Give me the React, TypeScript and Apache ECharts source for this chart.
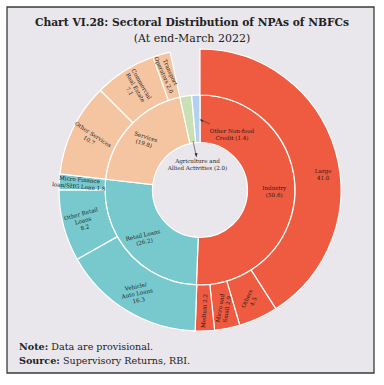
import React, { useEffect, useRef } from "react";
import * as echarts from "echarts";

// Inner ring (broad sectors), clockwise from 12 o'clock
const innerNames = ["Industry", "Retail Loans", "Services", "Agriculture and Allied Activities", "Other Non-food Credit"];
const innerValues = [50.6, 26.2, 19.8, 2.0, 1.4];
const innerLabelFormats = ["Industry\n({v})", "Retail Loans\n({v})", "Services\n({v})", "Agriculture and\nAllied Activities ({v})", "Other Non-food\nCredit ({v})"];
const innerColors = ["#EF5B40", "#77C9CD", "#F5C4A1", "#C8E0B3", "#B3D0F0"];
const innerRotate = [0, 13, -18, 0, 0];

// Outer ring (sub-sectors), clockwise from 12 o'clock
const outerNames = ["Large", "Others", "Micro and Small", "Medium", "Vehicle/Auto Loans", "Other Retail Loans", "Micro Finance loan/SHG Loan", "Other Services", "Commercial Real Estate", "Transport Operators"];
const outerValues = [41.0, 4.5, 2.9, 2.2, 16.3, 8.2, 1.8, 10.7, 7.1, 2.0];
const outerParent = [0, 0, 0, 0, 1, 1, 1, 2, 2, 2];
const outerLabelFormats = ["Large\n{v}", "Others\n{v}", "Micro and\nSmall {v}", "Medium {v}", "Vehicle/\nAuto Loans\n{v}", "Other Retail\nLoans\n{v}", "Micro Finance\nloan/SHG Loan {v}", "Other Services\n{v}", "Commercial\nReal Estate\n{v}", "Transport\nOperators {v}"];
const outerRotate = [0, 66, 80, 86, 12, 16, -5, -33, -60, -66];

const FONT = "DejaVu Serif";
const TEXT = "#1c1c1c";

function fmt(formats: string[], p: any): string {
  const f = formats[p.dataIndex];
  if (!f) return "";
  return f.replace("{v}", Number(p.value).toFixed(1));
}

export default function App() {
  const ref = useRef<HTMLDivElement>(null);
  useEffect(() => {
    if (!ref.current) return;
    const chart = echarts.init(ref.current, undefined, { renderer: "svg" });
    const gap = innerValues[3] + innerValues[4];
    const labelBase = { fontFamily: FONT, fontSize: 5.6, lineHeight: 7, color: TEXT };

    const innerData = innerNames.map((n, i) => ({
      name: n,
      value: innerValues[i],
      itemStyle: { color: innerColors[i] },
      label: { rotate: innerRotate[i] },
    }));
    const outerData: any[] = outerNames.map((n, i) => ({
      name: n,
      value: outerValues[i],
      itemStyle: { color: innerColors[outerParent[i]] },
      label: { rotate: outerRotate[i] },
    }));
    outerData.push({ name: "", value: gap, itemStyle: { color: "transparent", borderWidth: 0 }, label: { show: false } });

    chart.setOption({
      animation: false,
      backgroundColor: "#ffffff",
      title: [
        {
          text: "Chart VI.28: Sectoral Distribution of NPAs of NBFCs",
          subtext: "(At end-March 2022)",
          left: "center",
          top: 12,
          itemGap: 5,
          textStyle: { fontFamily: FONT, fontWeight: "bold", fontSize: 10.7, color: "#222" },
          subtextStyle: { fontFamily: FONT, fontSize: 11, color: "#222" },
        },
        {
          text: "{b|Note:} Data are provisional.\n{b|Source:} Supervisory Returns, RBI.",
          left: 14,
          top: 334,
          textStyle: {
            fontFamily: FONT,
            fontSize: 9.6,
            fontWeight: "normal",
            color: "#222",
            lineHeight: 14,
            rich: { b: { fontFamily: FONT, fontSize: 9.6, fontWeight: "bold", color: "#222", lineHeight: 14 } },
          },
        },
      ],
      graphic: [
        {
          type: "rect",
          z: -10,
          shape: { x: 7, y: 7, width: 367, height: 366 },
          style: { fill: "#E9E7EB", stroke: "#3a3a3a", lineWidth: 1.3 },
        },
        { type: "line", z: 10, shape: { x1: 201, y1: 120, x2: 210, y2: 124 }, style: { stroke: "#333", lineWidth: 0.6 } },
        { type: "polygon", z: 10, shape: { points: [[199.5, 119.3], [203.3, 120], [202.3, 122.2]] }, style: { fill: "#333" } },
        { type: "line", z: 10, shape: { x1: 193, y1: 141, x2: 196, y2: 155 }, style: { stroke: "#333", lineWidth: 0.6 } },
        { type: "polygon", z: 10, shape: { points: [[196.4, 157.5], [194.6, 153.5], [197.6, 153]] }, style: { fill: "#333" } },
      ],
      series: [
        {
          type: "pie",
          silent: true,
          center: [200, 190],
          radius: [47.5, 95],
          startAngle: 90,
          avoidLabelOverlap: false,
          itemStyle: { borderColor: "#ffffff", borderWidth: 1.2 },
          label: {
            show: true,
            position: "inside",
            ...labelBase,
            formatter: (p: any) => fmt(innerLabelFormats, p),
          },
          labelLine: { show: false },
          labelLayout: (p: any) => {
            if (p.dataIndex === 3) return { x: 197.5, y: 164.5, align: "center", verticalAlign: "middle" };
            if (p.dataIndex === 4) return { x: 232, y: 134, align: "center", verticalAlign: "middle" };
            return {};
          },
          data: innerData,
        },
        {
          type: "pie",
          silent: true,
          center: [200, 190],
          radius: [95, 141],
          startAngle: 90,
          avoidLabelOverlap: false,
          itemStyle: { borderColor: "#ffffff", borderWidth: 1.2 },
          label: {
            show: true,
            position: "inside",
            ...labelBase,
            formatter: (p: any) => fmt(outerLabelFormats, p),
          },
          labelLine: { show: false },
          labelLayout: (p: any) => (p.dataIndex === 0 ? { dx: 7, dy: 18 } : {}),
          data: outerData,
        },
      ],
    });
    return () => chart.dispose();
  }, []);
  return <div ref={ref} style={{ position: "absolute", left: 0, top: 0, width: 384, height: 385 }} />;
}
